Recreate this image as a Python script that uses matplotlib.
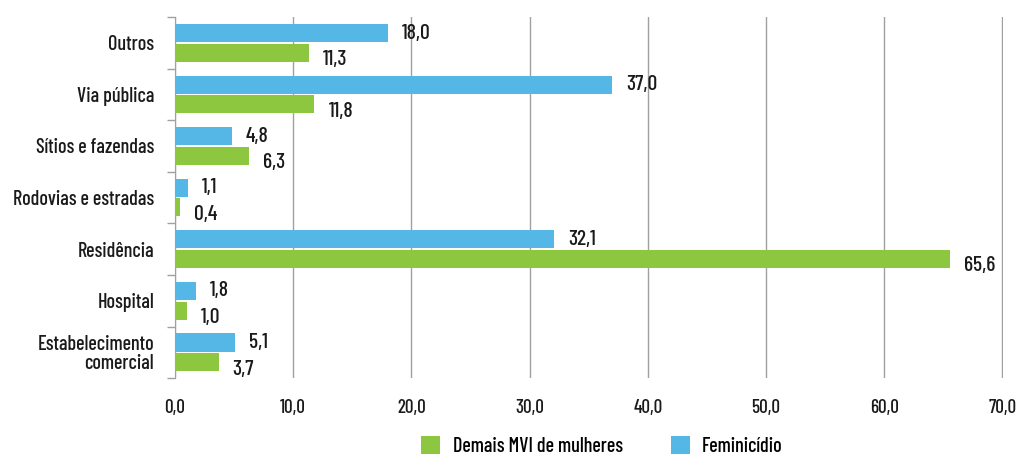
import matplotlib
matplotlib.use("Agg")
import matplotlib.pyplot as plt
import numpy as np
from matplotlib import font_manager

categories = ["Outros", "Via pública", "Sítios e fazendas", "Rodovias e estradas",
              "Residência", "Hospital", "Estabelecimento\ncomercial"]
feminicidio = [18.0, 37.0, 4.8, 1.1, 32.1, 1.8, 5.1]
demais = [11.3, 11.8, 6.3, 0.4, 65.6, 1.0, 3.7]
xticks = [0, 10, 20, 30, 40, 50, 60, 70]

names = {f.name for f in font_manager.fontManager.ttflist}
fam = "DejaVu Sans"
weight = "normal"
for cand, wt in [("Barlow Condensed Medium", "normal"), ("Barlow Condensed", "medium"),
                 ("Roboto Condensed", "medium"), ("Fira Sans Condensed", "normal"),
                 ("Barlow Semi Condensed", "medium")]:
    if cand in names:
        fam, weight = cand, wt
        break
plt.rcParams['font.family'] = [fam, 'DejaVu Sans']
plt.rcParams['font.weight'] = weight

blue = "#55B7E6"
green = "#8DC63F"
txt = "#1a1a1a"
gridc = "#a0a0a0"

fig = plt.figure(figsize=(10.33, 4.55), dpi=100)
ax = fig.add_axes([0.1694, 0.169, 0.8016, 0.7936])

fs = 14.5
vfs = 15.5

n = len(categories)
y = np.arange(n)
h = 0.35
ax.barh(y - 0.19, feminicidio, height=h, color=blue, label="Feminicídio", zorder=3)
ax.barh(y + 0.19, demais, height=h, color=green, label="Demais MVI de mulheres", zorder=3)

for i in range(n):
    ax.annotate(f"{feminicidio[i]:.1f}".replace(".", ","), (feminicidio[i], y[i] - 0.19),
                xytext=(10, 0), textcoords="offset points", va="center", ha="left",
                fontsize=vfs, color=txt)
    ax.annotate(f"{demais[i]:.1f}".replace(".", ","), (demais[i], y[i] + 0.19),
                xytext=(10, -5), textcoords="offset points", va="center", ha="left",
                fontsize=vfs, color=txt)

ax.set_ylim(n - 0.5, -0.5)
ax.set_xlim(0, 70.05)
ax.set_xticks(xticks)
ax.set_xticklabels([f"{v:.1f}".replace(".", ",") for v in xticks], fontsize=fs * 0.95, color=txt)
ax.set_yticks(y)
ax.set_yticklabels(categories, fontsize=fs, color=txt, linespacing=1.0)
ax.tick_params(axis='y', length=0, pad=15)
ax.tick_params(axis='x', length=0, pad=15)
ax.set_yticks(np.arange(-0.5, n + 0.5, 1), minor=True)
ax.tick_params(axis='y', which='minor', length=6, color=gridc, width=1)

ax.grid(axis='x', color=gridc, linewidth=1, zorder=0)
for s in ["top", "right", "bottom"]:
    ax.spines[s].set_visible(False)
ax.spines["left"].set_color(gridc)

handles, labels = ax.get_legend_handles_labels()
fig.legend(handles[::-1], labels[::-1], loc="center", bbox_to_anchor=(602 / 1033, 1 - 446 / 455),
           ncol=2, frameon=False, fontsize=fs, handlelength=0.95, handleheight=0.95,
           columnspacing=2.4, handletextpad=0.6, borderaxespad=0)

fig.savefig("out.png", dpi=100)
